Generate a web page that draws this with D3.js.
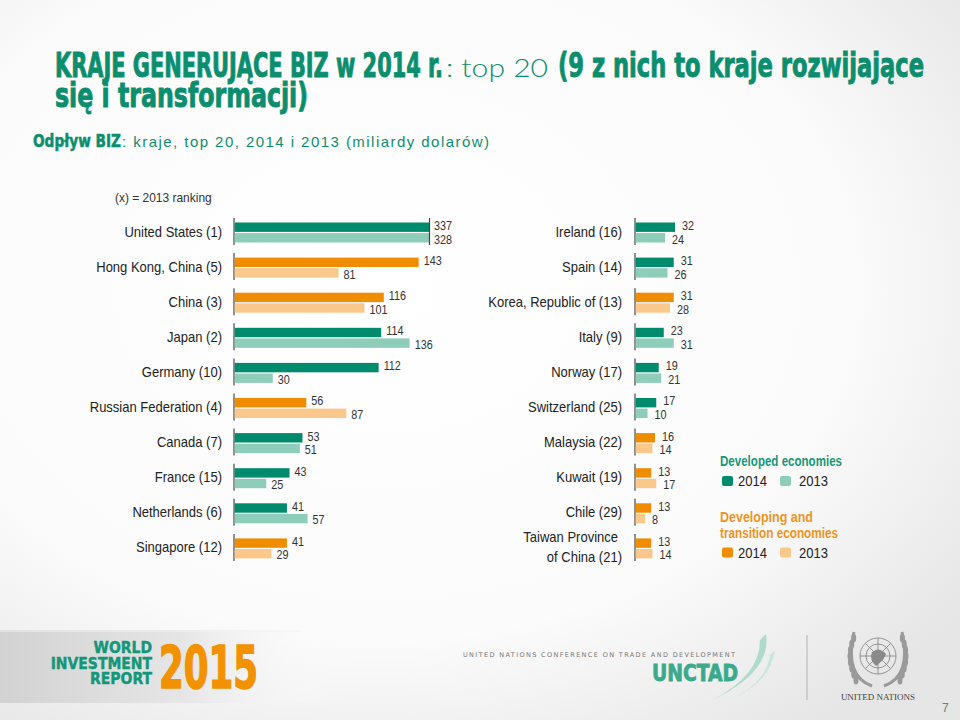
<!DOCTYPE html>
<html>
<head>
<meta charset="utf-8">
<script src="https://cdn.jsdelivr.net/npm/d3@7"></script>
<style>
  html, body { margin: 0; padding: 0; background: #fff; }
  svg { display: block; }
</style>
</head>
<body>
<svg id="chart" width="960" height="720"></svg>
<script>
// ---------------- DATA ----------------
const leftCountries = ["United States (1)", "Hong Kong, China (5)", "China (3)", "Japan (2)", "Germany (10)",
  "Russian Federation (4)", "Canada (7)", "France (15)", "Netherlands (6)", "Singapore (12)"];
const left2014 = [337, 143, 116, 114, 112, 56, 53, 43, 41, 41];
const left2013 = [328, 81, 101, 136, 30, 87, 51, 25, 57, 29];
const leftGroup = ["dev", "dvg", "dvg", "dev", "dev", "dvg", "dev", "dev", "dev", "dvg"];

const rightCountries = ["Ireland (16)", "Spain (14)", "Korea, Republic of (13)", "Italy (9)", "Norway (17)",
  "Switzerland (25)", "Malaysia (22)", "Kuwait (19)", "Chile (29)", "Taiwan Province|of China (21)"];
const right2014 = [32, 31, 31, 23, 19, 17, 16, 13, 13, 13];
const right2013 = [24, 26, 28, 31, 21, 10, 14, 17, 8, 14];
const rightGroup = ["dev", "dev", "dvg", "dev", "dev", "dev", "dvg", "dvg", "dvg", "dvg"];

const years = ["2014", "2013"];
const groupNames = {dev: "Developed economies", dvg: "Developing and|transition economies"};

// ---------------- STYLE ----------------
const colors = {
  dev: {"2014": "#008c6c", "2013": "#8dcdb9"},
  dvg: {"2014": "#f08c00", "2013": "#fbc88c"}
};
const COND = "'DejaVu Sans Condensed', 'DejaVu Sans', sans-serif";
const SANS = "'Liberation Sans', Arial, sans-serif";
const GREEN = "#0b8e6e";

const svg = d3.select("#chart");
const defs = svg.append("defs");

// background
const bg = defs.append("radialGradient").attr("id", "bg").attr("cx", "40%").attr("cy", "40%").attr("r", "75%");
bg.append("stop").attr("offset", "0%").attr("stop-color", "#ffffff");
bg.append("stop").attr("offset", "65%").attr("stop-color", "#fbfbfb");
bg.append("stop").attr("offset", "100%").attr("stop-color", "#e6e6e6");
svg.append("rect").attr("width", 960).attr("height", 720).attr("fill", "url(#bg)");

// horizontally squeezed text helper
function sqText(parent, x, y, sx, txt, anchor) {
  return parent.append("g").attr("transform", `translate(${x},${y})`)
    .append("text").attr("transform", `scale(${sx},1)`).attr("text-anchor", anchor || "start").text(txt);
}

// ---------------- TITLE ----------------
const thick = sel => sel.attr("fill", GREEN).attr("stroke", GREEN).attr("stroke-width", 0.9)
  .attr("font-family", COND).attr("font-weight", "bold").attr("lengthAdjust", "spacingAndGlyphs");

svg.append("text").attr("x", 55).attr("y", 77).attr("font-size", 33).attr("textLength", 388)
  .text("KRAJE GENERUJĄCE BIZ w 2014 r.").call(thick);
svg.append("text").attr("x", 446).attr("y", 77).attr("font-size", 26).attr("fill", GREEN)
  .attr("font-family", "Lato, 'Open Sans', sans-serif").attr("font-weight", 300)
  .attr("textLength", 102).attr("lengthAdjust", "spacingAndGlyphs").text(": top 20");
svg.append("text").attr("x", 558).attr("y", 77).attr("font-size", 33).attr("textLength", 366)
  .text("(9 z nich to kraje rozwijające").call(thick);
svg.append("text").attr("x", 55).attr("y", 107).attr("font-size", 33).attr("textLength", 253)
  .text("się i transformacji)").call(thick);

svg.append("text").attr("x", 33).attr("y", 147).attr("font-size", 17).attr("textLength", 88)
  .text("Odpływ BIZ").call(thick).attr("stroke-width", 0.5);
svg.append("text").attr("x", 122).attr("y", 147).attr("font-size", 15).attr("fill", GREEN)
  .attr("font-family", SANS)
  .attr("textLength", 367).attr("lengthAdjust", "spacing")
  .text(": kraje, top 20, 2014 i 2013 (miliardy dolarów)");

sqText(svg, 115, 202, 0.92, "(x) = 2013 ranking").attr("font-size", 13).attr("fill", "#333")
  .attr("font-family", SANS);

// ---------------- PANELS ----------------
function panel(cfg) {
  const idx = d3.range(cfg.countries.length);
  const y = d3.scaleBand().domain(idx).range([218, 569]);
  const x = d3.scaleLinear().domain(cfg.domain).range(cfg.range).clamp(true);
  const g = svg.append("g");

  const rows = g.selectAll("g.row").data(idx).join("g").attr("class", "row")
    .attr("transform", i => `translate(0,${y(i)})`);

  // axis segment
  rows.append("line").attr("x1", x(0)).attr("x2", x(0)).attr("y1", 0).attr("y2", 27)
    .attr("stroke", "#555").attr("stroke-width", 1.3);

  years.forEach((yr, k) => {
    const vals = yr === "2014" ? cfg.v2014 : cfg.v2013;
    rows.append("rect")
      .attr("x", x(0) + 0.7)
      .attr("y", 4.5 + k * 10.6)
      .attr("width", i => x(vals[i]) - x(0) - 0.7)
      .attr("height", 9.4)
      .attr("fill", i => colors[cfg.group[i]][yr]);
    rows.each(function(i) {
      sqText(d3.select(this), x(vals[i]) + cfg.labelGap, 4.5 + k * 10.6 + 4.7 + (k === 0 ? -1.5 : 1.5) + 4.2, 0.9, vals[i])
        .attr("font-size", 12).attr("fill", "#333").attr("font-family", SANS);
    });
  });

  // break mark for truncated bars
  rows.filter(i => cfg.v2014[i] > cfg.domain[1]).append("line")
    .attr("x1", x(cfg.domain[1]) + 0.5).attr("x2", x(cfg.domain[1]) + 0.5)
    .attr("y1", 0).attr("y2", 27).attr("stroke", "#444").attr("stroke-width", 1.2);

  // category labels
  rows.each(function(i) {
    const lines = cfg.countries[i].split("|");
    lines.forEach((ln, j) => {
      sqText(d3.select(this), cfg.labelX - (lines.length > 1 && j === 0 ? 4 : 0),
        13.5 + 5 + (j - (lines.length - 1) / 2) * 20, 0.93, ln, "end")
        .attr("font-size", 14).attr("fill", "#222").attr("font-family", SANS);
    });
  });
}

panel({countries: leftCountries, v2014: left2014, v2013: left2013, group: leftGroup,
  domain: [0, 151], range: [234, 429], labelX: 222, labelGap: 5});
panel({countries: rightCountries, v2014: right2014, v2013: right2013, group: rightGroup,
  domain: [0, 32], range: [635, 675], labelX: 622, labelGap: 7});

// ---------------- LEGEND ----------------
const legend = svg.append("g");
const legendItems = [
  {key: "dev", y: 466, color: "#16977a", widths: [122]},
  {key: "dvg", y: 522, color: "#ef9420", widths: [93, 118]}
];
legendItems.forEach(it => {
  const lines = groupNames[it.key].split("|");
  lines.forEach((ln, j) => {
    legend.append("text").attr("x", 720).attr("y", it.y + j * 15.5)
      .attr("font-size", 14.5).attr("font-weight", "bold").attr("fill", it.color)
      .attr("font-family", SANS).attr("textLength", it.widths[j]).attr("lengthAdjust", "spacingAndGlyphs").text(ln);
  });
  const sy = it.y + (lines.length - 1) * 15.5 + 10;
  years.forEach((yr, k) => {
    legend.append("rect").attr("x", 722 + k * 58).attr("y", sy).attr("width", 11).attr("height", 10)
      .attr("rx", 2).attr("fill", colors[it.key][yr]);
    sqText(legend, 738 + k * 61, sy + 10, 0.93, yr)
      .attr("font-size", 14).attr("fill", "#222").attr("font-family", SANS);
  });
});

// ---------------- FOOTER ----------------
const fg = defs.append("linearGradient").attr("id", "band").attr("x1", "0%").attr("x2", "100%");
fg.append("stop").attr("offset", "0%").attr("stop-color", "#d2d2d2");
fg.append("stop").attr("offset", "55%").attr("stop-color", "#e6e6e6");
fg.append("stop").attr("offset", "100%").attr("stop-color", "#ffffff").attr("stop-opacity", 0);
svg.append("rect").attr("x", 0).attr("y", 630).attr("width", 335).attr("height", 73).attr("fill", "url(#band)");
svg.append("line").attr("x1", 0).attr("x2", 300).attr("y1", 631).attr("y2", 631).attr("stroke", "#f2f2f2");

["WORLD", "INVESTMENT", "REPORT"].forEach((w, j) => {
  svg.append("text").attr("x", 152).attr("y", 653 + j * 15.5).attr("text-anchor", "end")
    .attr("font-size", 15.5).attr("font-weight", "bold").attr("fill", "#13977a")
    .attr("font-family", COND).attr("stroke", "#13977a").attr("stroke-width", 0.4)
    .text(w);
});
svg.append("text").attr("x", 159).attr("y", 688).attr("font-size", 58).attr("font-weight", "bold")
  .attr("fill", "#f39200").attr("stroke", "#f39200").attr("stroke-width", 1.5)
  .attr("font-family", COND).attr("textLength", 99).attr("lengthAdjust", "spacingAndGlyphs").text("2015");

svg.append("text").attr("x", 463).attr("y", 657).attr("font-size", 6.5).attr("fill", "#777")
  .attr("font-family", "'DejaVu Sans', sans-serif").attr("textLength", 272).attr("lengthAdjust", "spacing")
  .text("UNITED NATIONS CONFERENCE ON TRADE AND DEVELOPMENT");
svg.append("text").attr("x", 652).attr("y", 681).attr("font-size", 23).attr("font-weight", "bold")
  .attr("fill", "#3aaa8c").attr("stroke", "#3aaa8c").attr("stroke-width", 0.8)
  .attr("font-family", COND).attr("textLength", 86).attr("lengthAdjust", "spacingAndGlyphs").text("UNCTAD");
// swoosh
svg.append("path").attr("d", "M766,634 Q772,672 712,700 Q760,676 760,640 Z").attr("fill", "#9fd6c4").attr("opacity", 0.8);
svg.append("path").attr("d", "M775,650 Q770,684 728,700 Q766,684 770,655 Z").attr("fill", "#bfe3d6").attr("opacity", 0.8);
svg.append("line").attr("x1", 807).attr("x2", 807).attr("y1", 635).attr("y2", 700).attr("stroke", "#bbb").attr("stroke-width", 1.2);

// UN emblem (simplified)
const un = svg.append("g").attr("transform", "translate(878,656)").attr("fill", "none").attr("stroke", "#8a8a8a").attr("stroke-width", 0.9);
[6, 12, 18].forEach(r => un.append("circle").attr("r", r));
d3.range(0, 360, 45).forEach(a => {
  const rad = a * Math.PI / 180;
  un.append("line").attr("x1", 0).attr("y1", 0).attr("x2", 18 * Math.cos(rad)).attr("y2", 18 * Math.sin(rad));
});
un.append("path").attr("d", "M-6,-4 Q2,-9 8,-2 Q4,6 -2,10 Q-9,4 -6,-4 Z").attr("fill", "#8a8a8a").attr("stroke", "none");
[-1, 1].forEach(s => {
  un.append("path").attr("d", `M${s * 6},30 Q${s * 34},20 ${s * 24},-24`).attr("stroke-width", 3).attr("stroke", "#9a9a9a");
  d3.range(8).forEach(k => {
    const t = k / 8;
    un.append("ellipse").attr("cx", s * (22 + 6 * Math.sin(t * Math.PI))).attr("cy", 24 - t * 48)
      .attr("rx", 2.5).attr("ry", 4.5).attr("fill", "#9a9a9a").attr("stroke", "none");
  });
});
svg.append("text").attr("x", 878).attr("y", 700).attr("text-anchor", "middle").attr("font-size", 9)
  .attr("fill", "#444").attr("font-family", "'Liberation Serif', serif").text("UNITED NATIONS");
svg.append("text").attr("x", 942).attr("y", 712).attr("font-size", 12).attr("fill", "#777")
  .attr("font-family", "'Liberation Sans', sans-serif").text("7");
</script>
</body>
</html>
